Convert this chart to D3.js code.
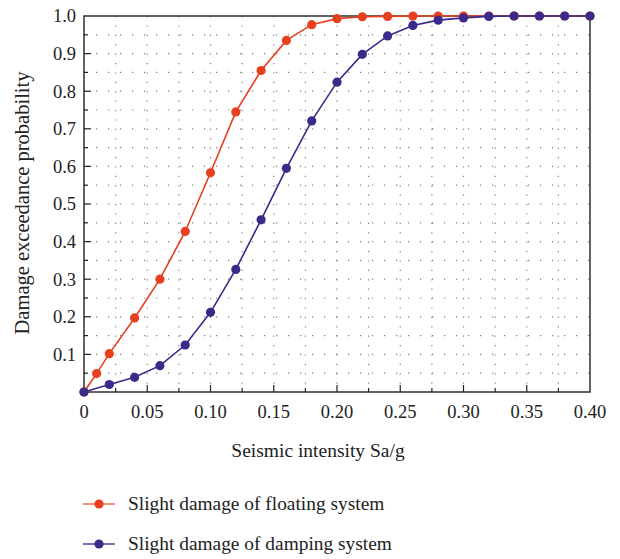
<!DOCTYPE html>
<html>
<head>
<meta charset="utf-8">
<script src="https://cdn.jsdelivr.net/npm/d3@7"></script>
<style>
  body { margin: 0; background: #fff; }
  svg { display: block; font-family: "Liberation Serif", "DejaVu Serif", serif; }
</style>
</head>
<body>
<div id="chart"></div>
<script>
// intensity (Sa/g) and exceedance probabilities
const floatingX = [0, 0.01, 0.02, 0.04, 0.06, 0.08, 0.10, 0.12, 0.14, 0.16, 0.18, 0.20,
  0.22, 0.24, 0.26, 0.28, 0.30, 0.32, 0.34, 0.36, 0.38, 0.40];
const floatingY = [0, 0.049, 0.102, 0.197, 0.300, 0.427, 0.583, 0.745, 0.855, 0.935, 0.977, 0.993,
  0.998, 0.999, 1, 1, 1, 1, 1, 1, 1, 1];

const dampingX = [0, 0.02, 0.04, 0.06, 0.08, 0.10, 0.12, 0.14, 0.16, 0.18, 0.20,
  0.22, 0.24, 0.26, 0.28, 0.30, 0.32, 0.34, 0.36, 0.38, 0.40];
const dampingY = [0, 0.020, 0.039, 0.070, 0.125, 0.212, 0.326, 0.458, 0.595, 0.721, 0.824,
  0.898, 0.947, 0.975, 0.989, 0.995, 0.999, 1, 1, 1, 1];

const xTickLabels = ["0", "0.05", "0.10", "0.15", "0.20", "0.25", "0.30", "0.35", "0.40"];
const yTickLabels = ["0.1", "0.2", "0.3", "0.4", "0.5", "0.6", "0.7", "0.8", "0.9", "1.0"];

const seriesNames = ["Slight damage of floating system", "Slight damage of damping system"];
const seriesColors = ["#e8401f", "#3b2a8a"];
const legendLineColors = ["#f0745c", "#5a4a9e"];

const width = 620, height = 559;
const margin = { top: 16, right: 30, bottom: 167, left: 84 };
const innerW = width - margin.left - margin.right;
const innerH = height - margin.top - margin.bottom;

const svg = d3.select("#chart").append("svg")
  .attr("width", width)
  .attr("height", height);

const g = svg.append("g")
  .attr("transform", `translate(${margin.left},${margin.top})`);

const x = d3.scaleLinear().domain([0, 0.4]).range([0, innerW]);
const y = d3.scaleLinear().domain([0, 1]).range([innerH, 0]);

// dotted grid
const gridColor = "#808080";
g.append("g").selectAll("line")
  .data(d3.range(1, 20).map(i => i * 0.05))
  .enter().append("line")
  .attr("x1", 0).attr("x2", innerW)
  .attr("y1", d => y(d)).attr("y2", d => y(d))
  .attr("stroke", gridColor)
  .attr("stroke-width", 1.2)
  .attr("stroke-dasharray", "1.2,10.8");

g.append("g").selectAll("line")
  .data(d3.range(1, 16).map(i => i * 0.025))
  .enter().append("line")
  .attr("x1", d => x(d)).attr("x2", d => x(d))
  .attr("y1", 0).attr("y2", innerH)
  .attr("stroke", gridColor)
  .attr("stroke-width", 1.2)
  .attr("stroke-dasharray", "1.2,8.2");

// frame
g.append("rect")
  .attr("width", innerW).attr("height", innerH)
  .attr("fill", "none")
  .attr("stroke", "#222")
  .attr("stroke-width", 1.4);

// bottom ticks, inward
const xMajor = d3.range(0, 9).map(i => i * 0.05);
const xMinor = d3.range(0, 8).map(i => i * 0.05 + 0.025);
g.append("g").selectAll("line")
  .data(xMajor.slice(1, -1))
  .enter().append("line")
  .attr("x1", d => x(d)).attr("x2", d => x(d))
  .attr("y1", innerH).attr("y2", innerH - 7)
  .attr("stroke", "#222").attr("stroke-width", 1.2);
g.append("g").selectAll("line")
  .data(xMinor)
  .enter().append("line")
  .attr("x1", d => x(d)).attr("x2", d => x(d))
  .attr("y1", innerH).attr("y2", innerH - 4)
  .attr("stroke", "#222").attr("stroke-width", 1.2);

// left ticks, inward
const yMajor = d3.range(1, 11).map(i => i * 0.1);
const yMinor = d3.range(0, 10).map(i => i * 0.1 + 0.05);
g.append("g").selectAll("line")
  .data(yMajor.slice(0, -1))
  .enter().append("line")
  .attr("x1", 0).attr("x2", 7)
  .attr("y1", d => y(d)).attr("y2", d => y(d))
  .attr("stroke", "#222").attr("stroke-width", 1.2);
g.append("g").selectAll("line")
  .data(yMinor)
  .enter().append("line")
  .attr("x1", 0).attr("x2", 4)
  .attr("y1", d => y(d)).attr("y2", d => y(d))
  .attr("stroke", "#222").attr("stroke-width", 1.2);

// tick labels
g.append("g").selectAll("text")
  .data(xTickLabels)
  .enter().append("text")
  .attr("x", (d, i) => x(xMajor[i]))
  .attr("y", innerH + 26)
  .attr("text-anchor", "middle")
  .attr("font-size", 18.5)
  .attr("fill", "#222")
  .text(d => d);

g.append("g").selectAll("text")
  .data(yTickLabels)
  .enter().append("text")
  .attr("x", -8)
  .attr("y", (d, i) => y(yMajor[i]))
  .attr("dy", "0.35em")
  .attr("text-anchor", "end")
  .attr("font-size", 18.5)
  .attr("fill", "#222")
  .text(d => d);

// axis titles
svg.append("text")
  .attr("x", 318)
  .attr("y", 457)
  .attr("text-anchor", "middle")
  .attr("font-size", 19.5)
  .attr("fill", "#222")
  .text("Seismic intensity Sa/g");

svg.append("text")
  .attr("transform", `translate(29,${margin.top + innerH / 2 - 1}) rotate(-90)`)
  .attr("text-anchor", "middle")
  .attr("font-size", 20.5)
  .attr("fill", "#222")
  .text("Damage exceedance probability");

// series
const series = [
  { xs: floatingX, ys: floatingY },
  { xs: dampingX, ys: dampingY }
];

const line = d3.line().x(d => x(d[0])).y(d => y(d[1]));

series.forEach((s, k) => {
  const pts = s.xs.map((v, i) => [v, s.ys[i]]);
  g.append("path")
    .datum(pts)
    .attr("fill", "none")
    .attr("stroke", seriesColors[k])
    .attr("stroke-width", 1.6)
    .attr("d", line);
  g.append("g").selectAll("circle")
    .data(pts)
    .enter().append("circle")
    .attr("cx", d => x(d[0]))
    .attr("cy", d => y(d[1]))
    .attr("r", 4.6)
    .attr("fill", seriesColors[k]);
});

// legend
const legend = svg.append("g");
seriesNames.forEach((name, k) => {
  const ly = 504 + k * 40;
  legend.append("line")
    .attr("x1", 83).attr("x2", 115)
    .attr("y1", ly).attr("y2", ly)
    .attr("stroke", legendLineColors[k])
    .attr("stroke-width", 1.6);
  legend.append("circle")
    .attr("cx", 99).attr("cy", ly)
    .attr("r", 4.6)
    .attr("fill", seriesColors[k]);
  legend.append("text")
    .attr("x", 128).attr("y", ly + 6)
    .attr("font-size", 19.4)
    .attr("fill", "#222")
    .text(name);
});
</script>
</body>
</html>
